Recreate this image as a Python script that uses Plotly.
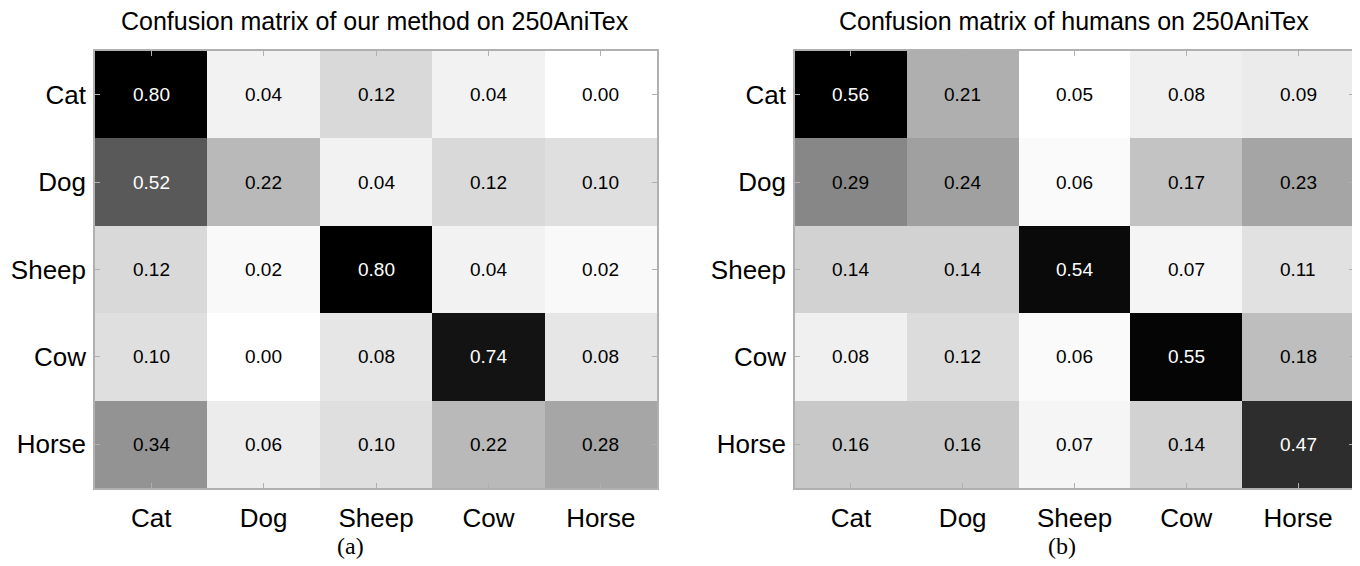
import plotly.graph_objects as go

classes = ["Cat", "Dog", "Sheep", "Cow", "Horse"]

ours = [
    [0.80, 0.04, 0.12, 0.04, 0.00],
    [0.52, 0.22, 0.04, 0.12, 0.10],
    [0.12, 0.02, 0.80, 0.04, 0.02],
    [0.10, 0.00, 0.08, 0.74, 0.08],
    [0.34, 0.06, 0.10, 0.22, 0.28],
]
humans = [
    [0.56, 0.21, 0.05, 0.08, 0.09],
    [0.29, 0.24, 0.06, 0.17, 0.23],
    [0.14, 0.14, 0.54, 0.07, 0.11],
    [0.08, 0.12, 0.06, 0.55, 0.18],
    [0.16, 0.16, 0.07, 0.14, 0.47],
]
titles = ["Confusion matrix of our method on 250AniTex",
          "Confusion matrix of humans on 250AniTex"]
captions = ["(a)", "(b)"]

# page body has an 8px margin; figure is placed at (8, 8)
OFF = 8
W, H = 1352, 558
FONT = "Liberation Sans, Arial, sans-serif"


def px(x):
    return (x - OFF) / W


def py(y):
    return 1 - (y - OFF) / H


fig = go.Figure()
xdomains = [[px(95), px(657)], [px(795), px(1354)]]
ydomain = [py(488), py(51)]

for i, z in enumerate([ours, humans]):
    flat = [v for row in z for v in row]
    lo, hi = min(flat), max(flat)
    xa = "x" if i == 0 else "x2"
    ya = "y" if i == 0 else "y2"
    fig.add_trace(go.Heatmap(
        z=z, x=classes, y=classes,
        colorscale=[[0, "#ffffff"], [1, "#000000"]],
        zmin=lo, zmax=hi,
        showscale=False,
        xaxis=xa, yaxis=ya, hoverinfo="skip",
    ))
    for r, row in enumerate(z):
        for c, v in enumerate(row):
            frac = (v - lo) / (hi - lo)
            fig.add_annotation(
                x=classes[c], y=classes[r], xref=xa, yref=ya,
                text=f"{v:.2f}", showarrow=False,
                font=dict(family=FONT, size=19,
                          color="#ffffff" if frac > 0.5 else "#000000"),
            )

axis_common = dict(
    showline=True, linecolor="#b0b0b0", linewidth=1.5, mirror="ticks",
    ticks="inside", ticklen=5, tickcolor="#b0b0b0", tickwidth=1,
    showgrid=False, zeroline=False,
    tickfont=dict(family=FONT, size=26, color="#000000"),
)

fig.update_layout(
    width=W, height=H,
    margin=dict(l=0, r=0, t=0, b=0),
    paper_bgcolor="white", plot_bgcolor="white",
    xaxis=dict(domain=xdomains[0], anchor="y", ticklabelstandoff=6, **axis_common),
    yaxis=dict(domain=ydomain, anchor="x", autorange="reversed", ticklabelstandoff=2, **axis_common),
    xaxis2=dict(domain=xdomains[1], anchor="y2", ticklabelstandoff=6, **axis_common),
    yaxis2=dict(domain=ydomain, anchor="x2", autorange="reversed", ticklabelstandoff=2, **axis_common),
)

title_x = [px(375), px(1074)]
cap_x = [px(350), px(1062)]
for i in range(2):
    fig.add_annotation(text=titles[i], x=title_x[i], y=py(21), xref="paper", yref="paper",
                       showarrow=False, xanchor="center", yanchor="middle",
                       font=dict(family=FONT, size=25, color="#000000"))
    fig.add_annotation(text=captions[i], x=cap_x[i], y=py(546), xref="paper", yref="paper",
                       showarrow=False, xanchor="center", yanchor="middle", borderpad=0,
                       font=dict(family="Liberation Serif, Times New Roman, serif", size=24, color="#000000"))

fig.write_html("out.html")
